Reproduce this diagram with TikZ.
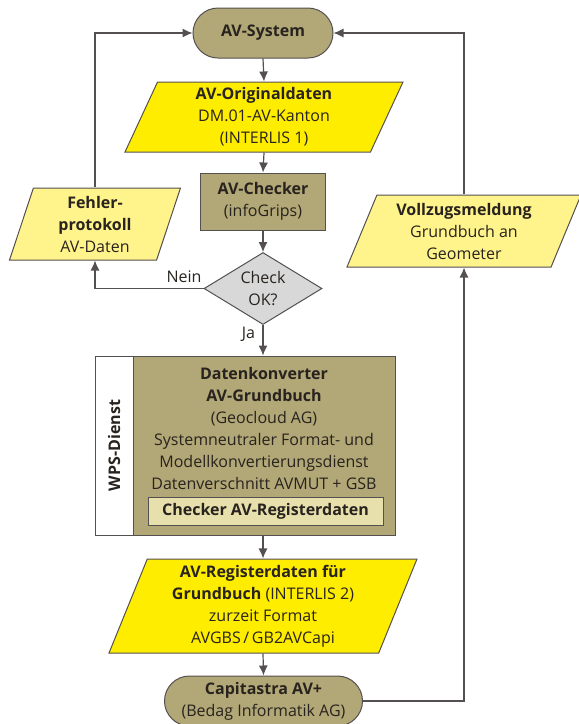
\documentclass[tikz,border=0pt]{standalone}
\usepackage{fontspec}
\setmainfont{Open Sans}
\usetikzlibrary{shapes.geometric,shapes.misc,arrows.meta}

\definecolor{khaki}{RGB}{178,167,118}
\definecolor{gelb}{RGB}{255,237,0}
\definecolor{hellgelb}{RGB}{255,243,140}
\definecolor{hellkhaki}{RGB}{232,224,172}
\definecolor{rautegrau}{RGB}{216,216,216}
\definecolor{linie}{RGB}{85,80,80}
\definecolor{schrift}{RGB}{40,35,30}

\begin{document}
\begin{tikzpicture}[>={Latex[length=10pt,width=9pt]}, x=1pt, y=-1pt,
  every node/.style={text=schrift, font=\fontsize{16}{22}\selectfont}]

\tikzstyle{terminal}=[draw=linie, line width=1pt, fill=khaki, rounded rectangle, inner sep=0pt, align=center]
\tikzstyle{datenbox}=[draw=linie, line width=1pt, trapezium, trapezium stretches body, inner sep=0pt, align=center]
\tikzstyle{prozess}=[draw=linie, line width=1pt, fill=khaki, inner sep=0pt, align=center]
\tikzstyle{arrow}=[->, draw=linie, line width=1.2pt]

\useasboundingbox (0,0) rectangle (579,724);

% Top: system
\node[terminal, minimum width=140pt, minimum height=50pt] (sys) at (263,33) {\textbf{AV-System}};

% Original data and checker
\node[datenbox, fill=gelb, minimum width=278pt, minimum height=70pt,
  trapezium left angle=61, trapezium right angle=119] (orig) at (264,117)
  {\textbf{AV-Originaldaten}\\DM.01-AV-Kanton\\(INTERLIS 1)};
\node[prozess, minimum width=125pt, minimum height=57pt] (chk) at (263,201.5) {\textbf{AV-Checker}\\(infoGrips)};
\node[draw=linie, line width=1pt, fill=rautegrau, diamond, aspect=1.64, minimum width=118pt, minimum height=72pt,
  inner sep=0pt, align=center] (ok) at (263,288.5) {Check\\OK?};

\draw[arrow] (sys.south) -- (orig.north);
\draw[arrow] (orig.south) -- (chk.north);
\draw[arrow] (chk.south) -- (ok.north);

% Left: error report
\node[datenbox, fill=hellgelb, minimum width=171pt, minimum height=72pt,
  trapezium left angle=67, trapezium right angle=113] (fehler) at (95,224)
  {\textbf{Fehler-}\\\textbf{protokoll}\\AV-Daten};

\draw[arrow] (ok.west) -| node[pos=0.09, above=2pt] {Nein} (fehler.south);
\draw[arrow] (fehler.north) |- (sys.west);

% Middle: converter (WPS service)
\node[prozess, minimum width=300pt, minimum height=179pt] (conv) at (245,445.5) {};
\node[draw=linie, line width=1pt, fill=white, minimum width=38pt, minimum height=179pt, inner sep=0pt] (wps) at (114,445.5) {};
\node[rotate=90, font=\fontsize{16}{22}\selectfont\bfseries] (wpstxt) at (wps.center) {WPS-Dienst};
\node[align=center] (convtxt) at (264,428.5)
  {\textbf{Datenkonverter}\\\textbf{AV-Grundbuch}\\(Geocloud AG)\\Systemneutraler Format- und\\Modellkonvertierungsdienst\\Datenverschnitt AVMUT + GSB};
\node[draw=linie, line width=1pt, fill=hellkhaki, minimum width=235pt, minimum height=28pt, inner sep=0pt] (regchk) at (265.5,511)
  {\textbf{Checker AV-Registerdaten}};

\draw[arrow] (ok.south) -- node[left=4pt, pos=0.3] {Ja} (conv.north -| ok.south);

% Bottom: register data and Capitastra
\node[datenbox, fill=gelb, minimum width=308pt, minimum height=94pt,
  trapezium left angle=65, trapezium right angle=115] (reg) at (263,606)
  {\textbf{AV-Registerdaten für}\\\textbf{Grundbuch} (INTERLIS 2)\\zurzeit Format\\AVGBS\,/\,GB2AVCapi};
\node[terminal, minimum width=198pt, minimum height=50pt] (capi) at (263.5,701) {\textbf{Capitastra AV+}\\(Bedag Informatik AG)};

\draw[arrow] (conv.south -| reg.north) -- (reg.north);
\draw[arrow] (reg.south) -- (capi.north);

% Right: confirmation back to system
\node[datenbox, fill=hellgelb, minimum width=234pt, minimum height=72pt,
  trapezium left angle=62, trapezium right angle=118] (vollz) at (464,231)
  {\textbf{Vollzugsmeldung}\\Grundbuch an\\Geometer};

\draw[arrow] (capi.east) -| (vollz.south);
\draw[arrow] (vollz.north) |- (sys.east);

\end{tikzpicture}
\end{document}
